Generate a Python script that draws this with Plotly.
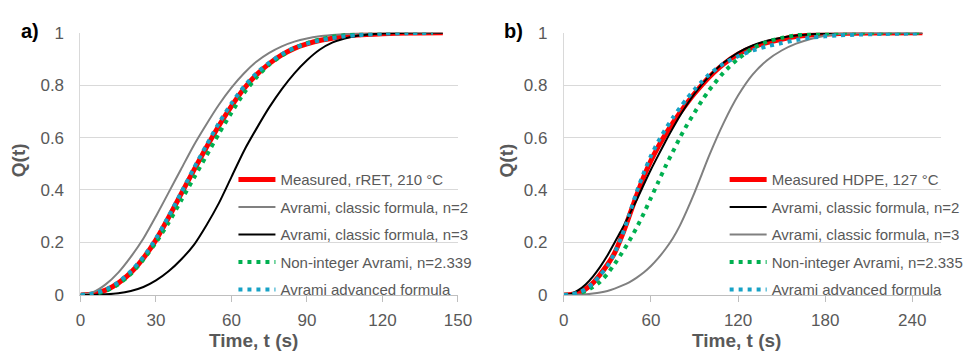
import plotly.graph_objects as go

# ---------------- data ----------------
# Panel a) rRET, 210 °C
a_t = [0, 5, 10, 15, 20, 25, 30, 35, 40, 45, 50, 55, 60, 65, 70, 75, 80, 85, 90, 95, 100, 105, 110, 120, 130, 144]
a_measured = [0, 0.004, 0.018, 0.045, 0.085, 0.14, 0.21, 0.295, 0.385, 0.475, 0.562, 0.645, 0.72, 0.787, 0.84, 0.882, 0.915, 0.94, 0.957, 0.97, 0.979, 0.986, 0.991, 0.996, 0.999, 1]
a_n2 = [0, 0.01, 0.04, 0.085, 0.145, 0.215, 0.30, 0.39, 0.48, 0.57, 0.65, 0.725, 0.79, 0.845, 0.89, 0.923, 0.948, 0.966, 0.978, 0.986, 0.991, 0.995, 0.997, 0.999, 1, 1]
a_n3 = [0, 0.0, 0.002, 0.006, 0.015, 0.03, 0.055, 0.09, 0.135, 0.19, 0.265, 0.35, 0.45, 0.55, 0.635, 0.715, 0.785, 0.845, 0.895, 0.935, 0.962, 0.978, 0.988, 0.997, 1, 1]
a_t_dots = [0, 5, 10, 15, 20, 25, 30, 35, 40, 45, 50, 55, 60, 65, 70, 75, 80, 85, 90, 95, 100, 105, 110, 120, 130, 140]
a_nonint = [0, 0.003, 0.015, 0.04, 0.08, 0.135, 0.2, 0.275, 0.36, 0.445, 0.53, 0.615, 0.695, 0.77, 0.83, 0.878, 0.913, 0.941, 0.96, 0.974, 0.984, 0.99, 0.994, 0.998, 1, 1]
a_adv = [0, 0.005, 0.02, 0.048, 0.09, 0.145, 0.215, 0.3, 0.39, 0.482, 0.57, 0.655, 0.73, 0.795, 0.846, 0.886, 0.918, 0.942, 0.958, 0.97, 0.979, 0.986, 0.99, 0.996, 0.998, 1]

# Panel b) HDPE, 127 °C
b_t = [0, 5, 10, 15, 20, 25, 30, 35, 40, 45, 50, 55, 60, 65, 70, 75, 80, 85, 90, 95, 100, 110, 120, 130, 140, 150, 160, 170, 180, 190, 200, 220, 247]
b_measured = [0, 0.002, 0.008, 0.022, 0.045, 0.078, 0.115, 0.16, 0.225, 0.30, 0.378, 0.45, 0.512, 0.565, 0.612, 0.655, 0.695, 0.733, 0.768, 0.80, 0.83, 0.88, 0.918, 0.944, 0.962, 0.975, 0.985, 0.991, 0.995, 0.997, 0.998, 0.999, 1]
b_n2 = [0, 0.004, 0.018, 0.04, 0.07, 0.107, 0.15, 0.2, 0.25, 0.305, 0.36, 0.42, 0.478, 0.532, 0.585, 0.635, 0.683, 0.727, 0.767, 0.802, 0.833, 0.885, 0.924, 0.951, 0.969, 0.981, 0.989, 0.994, 0.997, 0.998, 0.999, 1, 1]
b_n3 = [0, 0.0, 0.001, 0.002, 0.005, 0.009, 0.015, 0.024, 0.035, 0.048, 0.065, 0.085, 0.11, 0.14, 0.175, 0.215, 0.265, 0.325, 0.39, 0.46, 0.53, 0.655, 0.76, 0.84, 0.895, 0.932, 0.958, 0.976, 0.988, 0.995, 0.998, 1, 1]
b_t_dots = [0, 5, 10, 15, 20, 25, 30, 35, 40, 45, 50, 55, 60, 65, 70, 75, 80, 85, 90, 95, 100, 110, 120, 130, 140, 150, 160, 170, 180, 190, 200, 220, 245]
b_nonint = [0, 0.001, 0.006, 0.015, 0.03, 0.05, 0.08, 0.118, 0.16, 0.205, 0.255, 0.31, 0.37, 0.43, 0.49, 0.545, 0.6, 0.65, 0.695, 0.74, 0.78, 0.848, 0.9, 0.94, 0.965, 0.98, 0.99, 0.995, 0.997, 0.999, 1, 1, 1]
b_adv = [0, 0.002, 0.009, 0.022, 0.045, 0.075, 0.11, 0.16, 0.225, 0.305, 0.39, 0.465, 0.53, 0.585, 0.632, 0.675, 0.714, 0.75, 0.783, 0.813, 0.84, 0.882, 0.91, 0.932, 0.948, 0.96, 0.972, 0.981, 0.986, 0.99, 0.992, 0.995, 0.997]

a_names = ["Measured, rRET, 210 °C", "Avrami, classic formula, n=2", "Avrami, classic formula, n=3",
           "Non-integer Avrami, n=2.339", "Avrami advanced formula"]
b_names = ["Measured HDPE, 127 °C", "Avrami, classic formula, n=2", "Avrami, classic formula, n=3",
           "Non-integer Avrami, n=2.335", "Avrami advanced formula"]

a_xticks = [0, 30, 60, 90, 120, 150]
b_xticks = [0, 60, 120, 180, 240]
y_ticks = [0, 0.2, 0.4, 0.6, 0.8, 1]
y_ticklabels = ["0", "0.2", "0.4", "0.6", "0.8", "1"]

# ---------------- styles ----------------
RED = "#FF0000"
GRAY = "#808080"
BLACK = "#000000"
GREEN = "#00B050"
CYAN = "#17A2C6"
TXT = "#595959"
GRID = "#D9D9D9"
FONT = "Liberation Sans, Arial, sans-serif"
DOT = "4px,5px"

W, H = 971, 356
def px_x(p):
    return p / W
def px_y(p):
    return 1 - p / H

fig = go.Figure()

def add(x, y, name, color, width, dash, xa, ya, leg, grp):
    fig.add_trace(go.Scatter(
        x=x, y=y, name=name, mode="lines",
        line=dict(color=color, width=width, dash=dash, shape="spline", smoothing=0.7),
        xaxis=xa, yaxis=ya, legend=leg, legendgroup=grp,
        hoverinfo="skip"))

add(a_t, a_measured, a_names[0], RED, 5, "solid", "x", "y", "legend", "a1")
add(a_t, a_n2, a_names[1], GRAY, 2, "solid", "x", "y", "legend", "a2")
add(a_t, a_n3, a_names[2], BLACK, 2, "solid", "x", "y", "legend", "a3")
add(a_t_dots, a_nonint, a_names[3], GREEN, 4, DOT, "x", "y", "legend", "a4")
add(a_t_dots, a_adv, a_names[4], CYAN, 4, DOT, "x", "y", "legend", "a5")

add(b_t, b_measured, b_names[0], RED, 5, "solid", "x2", "y2", "legend2", "b1")
add(b_t, b_n2, b_names[1], BLACK, 2, "solid", "x2", "y2", "legend2", "b2")
add(b_t, b_n3, b_names[2], GRAY, 2, "solid", "x2", "y2", "legend2", "b3")
add(b_t_dots, b_nonint, b_names[3], GREEN, 4, DOT, "x2", "y2", "legend2", "b4")
add(b_t_dots, b_adv, b_names[4], CYAN, 4, DOT, "x2", "y2", "legend2", "b5")

tickfont = dict(family=FONT, size=17, color=TXT)
xcommon = dict(showgrid=False, showline=True, linecolor="#BFBFBF", linewidth=1,
               ticks="outside", ticklen=6, tickcolor="#BFBFBF", tickfont=tickfont,
               ticklabelstandoff=4, zeroline=False, fixedrange=True)
ycommon = dict(range=[0, 1.0], tickvals=y_ticks, ticktext=y_ticklabels, showgrid=True,
               gridcolor=GRID, gridwidth=1, showline=True, linecolor=GRID, linewidth=1,
               ticks="", tickfont=tickfont, zeroline=False, ticklabelstandoff=12,
               fixedrange=True)

ydom = [px_y(302), px_y(25)]
legfont = dict(family=FONT, size=15, color=TXT)
fig.update_layout(
    width=W, height=H,
    margin=dict(l=0, r=0, t=0, b=0),
    paper_bgcolor="white", plot_bgcolor="white",
    font=dict(family=FONT, color=TXT),
    xaxis=dict(domain=[px_x(77), px_x(462)], range=[0, 150], tickvals=a_xticks, anchor="y", **xcommon),
    yaxis=dict(domain=ydom, anchor="x", **ycommon),
    xaxis2=dict(domain=[px_x(570), px_x(955)], range=[0, 260], tickvals=b_xticks, anchor="y2", **xcommon),
    yaxis2=dict(domain=ydom, anchor="x2", **ycommon),
    legend=dict(x=px_x(233), y=px_y(163), xanchor="left", yanchor="top",
                bgcolor="rgba(0,0,0,0)", font=legfont, itemwidth=37,
                tracegroupgap=5, itemclick=False, itemdoubleclick=False),
    legend2=dict(x=px_x(734), y=px_y(163), xanchor="left", yanchor="top",
                 bgcolor="rgba(0,0,0,0)", font=legfont, itemwidth=37,
                 tracegroupgap=5, itemclick=False, itemdoubleclick=False),
    showlegend=True,
)

ann = []
titlefont = dict(family=FONT, size=19, color=TXT)
ann.append(dict(text="<b>Time, t (s)</b>", x=px_x(253), y=px_y(350), xref="paper", yref="paper",
                showarrow=False, font=titlefont, xanchor="center", yanchor="middle"))
ann.append(dict(text="<b>Time, t (s)</b>", x=px_x(746), y=px_y(350), xref="paper", yref="paper",
                showarrow=False, font=titlefont, xanchor="center", yanchor="middle"))
ann.append(dict(text="<b>Q(t)</b>", x=px_x(14), y=px_y(160), xref="paper", yref="paper",
                showarrow=False, font=titlefont, textangle=-90, xanchor="center", yanchor="middle"))
ann.append(dict(text="<b>Q(t)</b>", x=px_x(511), y=px_y(160), xref="paper", yref="paper",
                showarrow=False, font=titlefont, textangle=-90, xanchor="center", yanchor="middle"))
ann.append(dict(text="<b>a)</b>", x=px_x(25), y=px_y(23), xref="paper", yref="paper",
                showarrow=False, font=dict(family=FONT, size=20, color="black"),
                xanchor="center", yanchor="middle"))
ann.append(dict(text="<b>b)</b>", x=px_x(519), y=px_y(23), xref="paper", yref="paper",
                showarrow=False, font=dict(family=FONT, size=20, color="black"),
                xanchor="center", yanchor="middle"))
fig.update_layout(annotations=ann)

fig.write_html("out.html")
